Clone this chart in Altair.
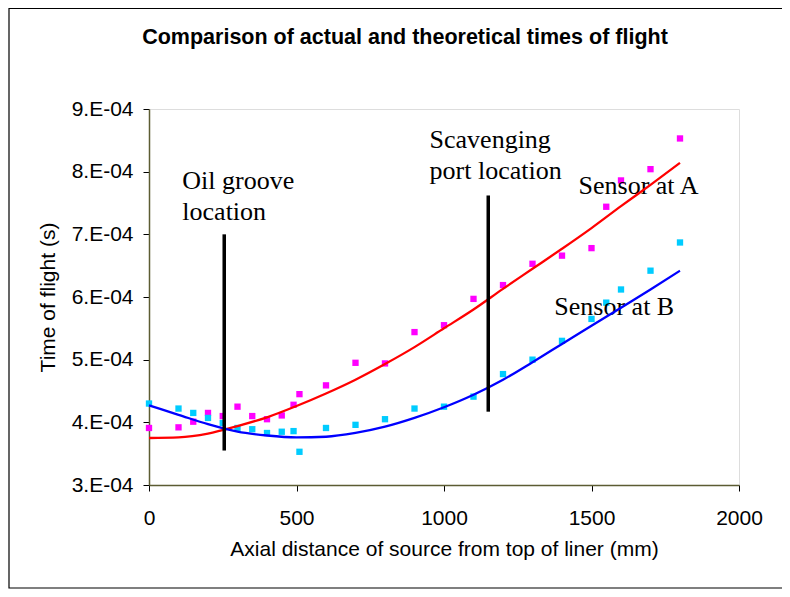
import altair as alt
import pandas as pd

# ---- measured data (time of flight in units of 1e-4 s) ----
x_mm = [0, 100, 150, 200, 250, 300, 350, 400, 450, 490, 510, 600, 700, 800, 900,
        1000, 1100, 1200, 1300, 1400, 1500, 1550, 1600, 1700, 1800]
sensor_a = [3.91, 3.92, 4.01, 4.15, 4.10, 4.25, 4.10, 4.05, 4.11, 4.28, 4.45, 4.59, 4.95, 4.94, 5.44,
            5.55, 5.97, 6.19, 6.53, 6.66, 6.78, 7.44, 7.86, 8.04, 8.53]
sensor_b = [4.30, 4.22, 4.15, 4.07, 3.99, 3.91, 3.89, 3.83, 3.85, 3.86, 3.53, 3.91, 3.96, 4.05, 4.22,
            4.25, 4.41, 4.77, 5.00, 5.30, 5.65, 5.91, 6.12, 6.42, 6.87]

# ---- theoretical curves ----
theory_x = [0, 100, 200, 300, 400, 500, 600, 700, 800, 900, 1000, 1100, 1200, 1300, 1400,
            1500, 1600, 1700, 1800]
theory_a = [3.75, 3.76, 3.82, 3.94, 4.08, 4.26, 4.46, 4.68, 4.93, 5.20, 5.50, 5.80, 6.13, 6.45, 6.77,
            7.10, 7.45, 7.79, 8.14]
theory_b = [4.27, 4.12, 3.97, 3.85, 3.79, 3.76, 3.77, 3.83, 3.93, 4.07, 4.24, 4.44, 4.68, 4.96, 5.25,
            5.54, 5.83, 6.12, 6.42]

# ---- location markers ----
marker_x = [255, 1150]
marker_top = [7.00, 7.62]
marker_bottom = [3.55, 4.17]

# ---- annotations ----
note_text = ["Oil groove", "location", "Scavenging", "port location", "Sensor at A", "Sensor at B"]
note_x = [113, 113, 951, 951, 1456, 1374]
note_y = [7.73, 7.23, 8.38, 7.88, 7.64, 5.72]

title_text = "Comparison of actual and theoretical times of flight"
x_title = "Axial distance of source from top of liner (mm)"
y_title = "Time of flight (s)"

E = 1e-4
pts = pd.DataFrame({
    "x": x_mm * 2,
    "y": [v * E for v in sensor_a] + [v * E for v in sensor_b],
    "s": ["A"] * len(x_mm) + ["B"] * len(x_mm),
})
th = pd.DataFrame({
    "x": theory_x * 2,
    "y": [v * E for v in theory_a] + [v * E for v in theory_b],
    "s": ["A"] * len(theory_x) + ["B"] * len(theory_x),
})
rules = pd.DataFrame({"x": marker_x, "y": [v * E for v in marker_top],
                      "y2": [v * E for v in marker_bottom]})
notes = pd.DataFrame({"x": note_x, "y": [v * E for v in note_y], "t": note_text})
one = pd.DataFrame({"t": [title_text]})

FONT = "Liberation Sans"
xscale = alt.Scale(domain=[0, 2000], nice=False)
yscale = alt.Scale(domain=[3e-4, 9e-4], nice=False, zero=False)

x_axis = alt.Axis(values=[0, 500, 1000, 1500, 2000], grid=False, title=x_title, format="d",
                  labelFlush=False, labelOverlap=False,
                  tickSize=6, labelPadding=16, titlePadding=10,
                  labelFont=FONT, titleFont=FONT, labelFontSize=21, titleFontSize=21,
                  titleFontWeight="normal", labelColor="black", titleColor="black",
                  domainColor="#5c5c33", domainWidth=1.5, tickColor="black")
y_axis = alt.Axis(values=[3e-4, 4e-4, 5e-4, 6e-4, 7e-4, 8e-4, 9e-4], grid=False, title=y_title,
                  labelExpr="round(datum.value*10000) + '.E-04'",
                  labelFlush=False, labelOverlap=False,
                  tickSize=6, labelPadding=10, titlePadding=13,
                  labelFont=FONT, titleFont=FONT, labelFontSize=21, titleFontSize=21,
                  titleFontWeight="normal", labelColor="black", titleColor="black",
                  domainColor="#5c5c33", domainWidth=1.5, tickColor="black")

X = alt.X("x:Q", scale=xscale, axis=x_axis)
Y = alt.Y("y:Q", scale=yscale, axis=y_axis)

color_pts = alt.Color("s:N", scale=alt.Scale(domain=["A", "B"], range=["#FF00FF", "#00CCFF"]), legend=None)
color_th = alt.Color("s:N", scale=alt.Scale(domain=["A", "B"], range=["#FF0000", "#0000FF"]), legend=None)

# outer frame of the chart (its right edge lies outside the picture)
frame = alt.Chart(one).mark_rect(filled=False, fill=None, stroke="black", strokeWidth=1.2).encode(
    x=alt.value(-140), x2=alt.value(720), y=alt.value(-100.5), y2=alt.value(479))

title = alt.Chart(one).mark_text(font=FONT, fontSize=21.5, fontWeight="bold", align="center",
                                 baseline="alphabetic", color="black").encode(
    x=alt.value(256), y=alt.value(-65.5), text="t:N")

points = alt.Chart(pts).mark_point(shape="square", filled=True, size=40, opacity=1).encode(
    x=X, y=Y, color=color_pts)

lines = alt.Chart(th).mark_line(strokeWidth=2.3, interpolate="monotone").encode(
    x=X, y=Y, color=color_th, detail="s:N")

rule_layer = alt.Chart(rules).mark_rule(color="black", strokeWidth=3.5).encode(
    x=X, y=Y, y2="y2:Q")

note_layer = alt.Chart(notes).mark_text(font="Liberation Serif", fontSize=26, align="left",
                                        baseline="alphabetic", color="black").encode(
    x=X, y=Y, text="t:N")

chart = alt.layer(points, frame, title, note_layer, lines, rule_layer).resolve_scale(
    color="independent"
).properties(
    width=590, height=376,
    padding={"left": 141, "top": 101, "right": 43, "bottom": 104},
    autosize=alt.AutoSizeParams(type="none"),
).configure_view(stroke="#FFFFC0", strokeWidth=2.5).configure(background="white")

chart.save("out.html", embed_options={"renderer": "svg", "actions": False})
